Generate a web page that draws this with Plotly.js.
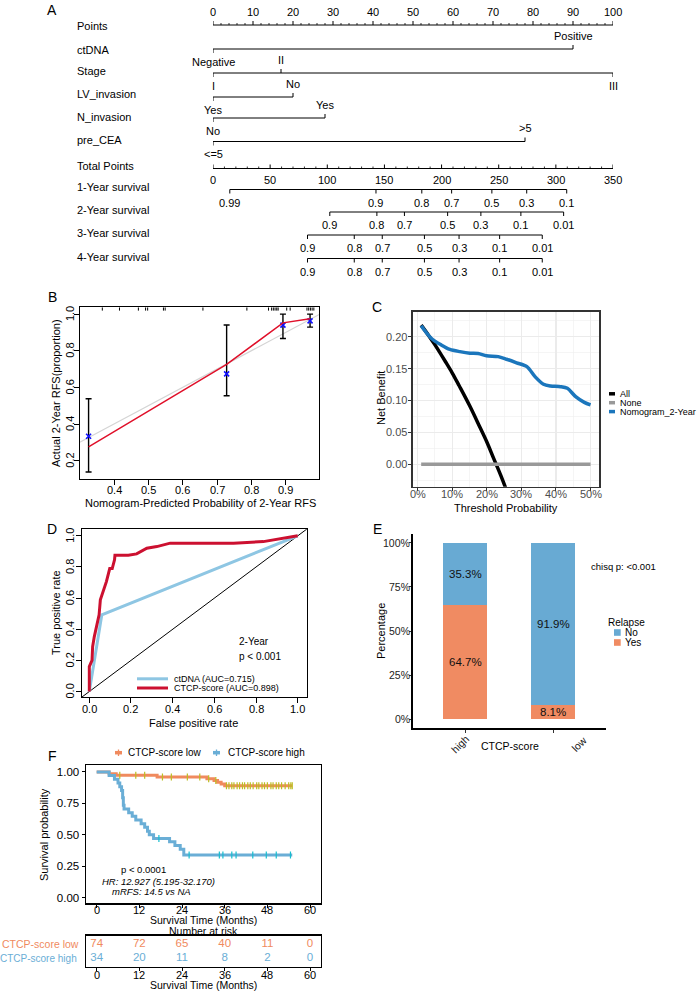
<!DOCTYPE html>
<html><head><meta charset="utf-8">
<script src="https://cdn.plot.ly/plotly-3.0.1.min.js"></script>
<style>html,body{margin:0;padding:0;background:#fff}#chart{width:699px;height:993px}</style>
</head><body><div id="chart"></div>
<script>
// ================= DATA =================
// Panel A : nomogram
const pointsTicks = [0,10,20,30,40,50,60,70,80,90,100];
const ctdnaLevels = ["Negative","Positive"]; const ctdnaPoints = [0,90];
const stageLevels = ["I","II","III"];       const stagePoints = [0,17,100];
const lvLevels    = ["Yes","No"];           const lvPoints    = [0,20];
const nLevels     = ["No","Yes"];           const nPoints     = [0,28];
const ceaLevels   = ["<=5",">5"];           const ceaPoints   = [0,78];
const totalTicks  = [0,50,100,150,200,250,300,350];
const surv1Labels = ["0.99","0.9","0.8","0.7","0.5","0.3","0.1"];
const surv1Total  = [14.7,142.6,182.7,208.8,244,274.5,309.5];
const surv2Labels = ["0.9","0.8","0.7","0.5","0.3","0.1","0.01"];
const surv2Total  = [102.2,143.4,167.5,205.3,234.4,269.4,306.8];
const surv3Labels = ["0.9","0.8","0.7","0.5","0.3","0.1","0.01"];
const surv3Total  = [82.7,123.6,148.1,185,215.3,250.8,288.1];
const surv4Labels = ["0.9","0.8","0.7","0.5","0.3","0.1","0.01"];
const surv4Total  = [82.7,123.6,148.1,185,215.3,250.8,288.1];

// Panel B : calibration
const calTicksX = [0.4,0.5,0.6,0.7,0.8,0.9];
const calTicksY = [0.2,0.4,0.6,0.8,1.0];
const calPred = [0.326,0.728,0.892,0.971];
const calObs  = [0.333,0.674,0.940,0.963];
const calLo   = [0.138,0.554,0.867,0.929];
const calHi   = [0.538,0.940,1.000,1.000];
const calApparentY = [0.275,0.725,0.952,0.974];
const rugX = [0.366,0.416,0.471,0.492,0.498,0.544,0.549,0.659,0.787,0.850,0.859,0.864,0.869,0.874,0.878,0.903,0.913,0.962,0.967,0.972,0.977,0.982];

// Panel C : decision curve
const dcaTicksX = [0,0.1,0.2,0.3,0.4,0.5];
const dcaTicksY = [0,0.05,0.10,0.15,0.20];
const dcaAllX = [0.01,0.03,0.05,0.08,0.10,0.12,0.15,0.18,0.20,0.22,0.24,0.26];
const dcaAllY = [0.218,0.203,0.187,0.161,0.143,0.123,0.092,0.058,0.035,0.009,-0.017,-0.045];
const dcaNoneX = [0.01,0.50];
const dcaNoneY = [0,0];
const dcaNomX = [0.01,0.039,0.068,0.093,0.122,0.151,0.175,0.199,0.233,0.257,0.286,0.316,0.34,0.364,0.384,0.413,0.433,0.457,0.482,0.50];
const dcaNomY = [0.217,0.1975,0.187,0.180,0.1765,0.174,0.1734,0.170,0.1687,0.1646,0.159,0.153,0.137,0.1254,0.1227,0.1216,0.119,0.106,0.097,0.093];

// Panel D : ROC
const rocTicks = [0,0.2,0.4,0.6,0.8,1.0];
const rocCtdnaX = [0,0.06,1];
const rocCtdnaY = [0,0.493,1];
const rocCtcpX = [0,0,0.013,0.016,0.024,0.035,0.047,0.053,0.066,0.082,0.098,0.11,0.121,0.123,0.187,0.227,0.276,0.324,0.388,0.692,0.835,1];
const rocCtcpY = [0,0.16,0.2,0.289,0.353,0.417,0.493,0.589,0.642,0.706,0.79,0.79,0.846,0.875,0.875,0.884,0.921,0.931,0.953,0.953,0.963,1];

// Panel E : relapse proportion
const groups = ["high","low"];
const pctYes = [0.647,0.081];
const pctNo  = [0.353,0.919];
const pctTicks = [0,0.25,0.5,0.75,1];

// Panel F : Kaplan-Meier
const kmTicksY = [0,0.25,0.5,0.75,1];
const kmLowT = [0,3.5,5.5,17,31,33,34,35,36,55];
const kmLowS = [1,0.986,0.973,0.959,0.945,0.931,0.917,0.903,0.889,0.889];
const kmHighT = [0,3.5,5,6,6.5,7,7.3,7.5,7.7,9,10,11,12.5,13.5,14.3,14.8,16,20.5,22,23.5,24.5,55];
const kmHighS = [1,0.971,0.941,0.912,0.882,0.853,0.794,0.735,0.706,0.676,0.647,0.618,0.588,0.559,0.529,0.50,0.471,0.445,0.415,0.385,0.34,0.34];
const censLow = [6.5,11,13.5,18.5,21,25.5,29,31.5,33.5,36.5,37.2,38,38.6,39.5,40.2,41,41.6,42.5,43.2,44,45,45.6,46.5,47.2,48,49,49.6,50.5,51.2,52,53,54,54.6,55];
const censHigh = [17.5,26,34.5,35.5,38,39.2,43.9,47.7,50.5,54.5];
const riskTimes = [0,12,24,36,48,60];
const riskLow  = [74,72,65,40,11,0];
const riskHigh = [34,20,11,8,2,0];

// ================= STYLE / LAYOUT =================
const FONT = "Liberation Sans, Arial, Helvetica, sans-serif";
const W = 699, H = 993;
const dx = p => p / W, dy = p => 1 - p / H;
const ORANGE = "#F08B62", BLUE = "#68AAD3";
const KM_OR = "#F08A5E", KM_BL = "#6AAED6";
const traces = [], ann = [], shapes = [];

function lineTrace(x, y, xa, ya, color, width, extra) {
  return Object.assign({type:'scatter', mode:'lines', x, y, xaxis:xa, yaxis:ya,
    line:{color, width}, hoverinfo:'skip', showlegend:false}, extra || {});
}
function segs(xs, y0, y1) { const X=[], Y=[]; xs.forEach(v => { X.push(v, v, null); Y.push(y0, y1, null); }); return {X, Y}; }
function pTxt(text, x, y, size, opts) {
  ann.push(Object.assign({text, x:dx(x), y:dy(y), xref:'paper', yref:'paper', showarrow:false,
    font:{family:FONT, size:size||11, color:'#000'}, xanchor:'center', yanchor:'middle'}, opts || {}));
}
function dTxt(text, x, y, xref, yref, size, color, opts) {
  ann.push(Object.assign({text, x, y, xref, yref, showarrow:false,
    font:{family:FONT, size:size||11, color:color||'#000'}, xanchor:'center', yanchor:'middle'}, opts || {}));
}
function xLabels(vals, texts, xref, ypx, size, color) {
  vals.forEach((v,i) => dTxt(texts[i], v, dy(ypx), xref, 'paper', size, color));
}
function yLabelsRot(vals, texts, yref, xpx, size) {
  vals.forEach((v,i) => dTxt(texts[i], dx(xpx), v, 'paper', yref, size, '#000', {textangle:-90}));
}
function yLabelsRight(vals, texts, yref, xpx, size, color) {
  vals.forEach((v,i) => dTxt(texts[i], dx(xpx), v, 'paper', yref, size, color, {xanchor:'right'}));
}
const f1 = v => v.toFixed(1), f2 = v => v.toFixed(2), pc = v => Math.round(v*100) + '%';

// ---------- Panel A ----------
const ROW = {points:25, ctDNA:49, stage:73, lv:97, n:118, cea:141.5, total:168.5, s1:189.5, s2:212, s3:235, s4:258.5};
const A_LAB = [["Points",26],["ctDNA",50],["Stage",71],["LV_invasion",94],["N_invasion",117],["pre_CEA",140],
  ["Total Points",166],["1-Year survival",187],["2-Year survival",210],["3-Year survival",233],["4-Year survival",257]];
A_LAB.forEach(([t,y]) => pTxt(t, 75, y, 11, {xanchor:'left'}));

traces.push(lineTrace([pointsTicks[0], pointsTicks[pointsTicks.length-1]], [ROW.points, ROW.points], 'x', 'y', '#000', 1));
{ const s = segs(pointsTicks, ROW.points, ROW.points-4); traces.push(lineTrace(s.X, s.Y, 'x', 'y', '#000', 1)); }
{ const minor = []; for (let v = 0; v <= 100; v += 2) if (v % 10) minor.push(v);
  const s = segs(minor, ROW.points, ROW.points-2); traces.push(lineTrace(s.X, s.Y, 'x', 'y', '#000', 0.8)); }
pointsTicks.forEach(v => dTxt(String(v), v, ROW.points-13, 'x', 'y', 11));

function catRow(levels, pts, y) {
  traces.push(lineTrace([Math.min(...pts), Math.max(...pts)], [y, y], 'x', 'y', '#000', 1));
  const X=[], Y=[];
  levels.forEach((lab, i) => {
    const up = i % 2 === 1;
    X.push(pts[i], pts[i], null); Y.push(y, up ? y-4 : y+4, null);
    dTxt(lab, pts[i], up ? y-13.5 : y+12.5, 'x', 'y', 11);
  });
  traces.push(lineTrace(X, Y, 'x', 'y', '#000', 1));
}
catRow(ctdnaLevels, ctdnaPoints, ROW.ctDNA);
catRow(stageLevels, stagePoints, ROW.stage);
catRow(lvLevels, lvPoints, ROW.lv);
catRow(nLevels, nPoints, ROW.n);
catRow(ceaLevels, ceaPoints, ROW.cea);

traces.push(lineTrace([totalTicks[0], totalTicks[totalTicks.length-1]], [ROW.total, ROW.total], 'x8', 'y', '#000', 1));
{ const s = segs(totalTicks, ROW.total, ROW.total-4); traces.push(lineTrace(s.X, s.Y, 'x8', 'y', '#000', 1)); }
{ const minor = []; for (let v = 0; v <= 350; v += 10) if (v % 50) minor.push(v);
  const s = segs(minor, ROW.total, ROW.total-2); traces.push(lineTrace(s.X, s.Y, 'x8', 'y', '#000', 0.8)); }
totalTicks.forEach(v => dTxt(String(v), v, ROW.total+11, 'x8', 'y', 11));

function survRow(labels, tps, y) {
  traces.push(lineTrace([Math.min(...tps), Math.max(...tps)], [y, y], 'x8', 'y', '#000', 1));
  const s = segs(tps, y, y+4); traces.push(lineTrace(s.X, s.Y, 'x8', 'y', '#000', 1));
  labels.forEach((lab, i) => dTxt(lab, tps[i], y+13, 'x8', 'y', 11));
}
survRow(surv1Labels, surv1Total, ROW.s1);
survRow(surv2Labels, surv2Total, ROW.s2);
survRow(surv3Labels, surv3Total, ROW.s3);
survRow(surv4Labels, surv4Total, ROW.s4);

// ---------- Panel B ----------
traces.push(lineTrace([0,1], [0,1], 'x2', 'y2', '#d4d4d4', 1.2));
{ const s = segs(rugX, 1.037, 1.019); traces.push(lineTrace(s.X, s.Y, 'x2', 'y2', '#000', 1)); }
traces.push({type:'scatter', mode:'markers', x:calPred, y:calObs, xaxis:'x2', yaxis:'y2',
  marker:{symbol:'x-thin-open', size:5, color:'#1010ff', line:{width:1.6, color:'#1010ff'}},
  error_y:{type:'data', symmetric:false, array:calHi.map((h,i)=>h-calObs[i]), arrayminus:calObs.map((o,i)=>o-calLo[i]),
    color:'#000', thickness:1.4, width:3},
  hoverinfo:'skip', showlegend:false});
traces.push(lineTrace(calPred, calApparentY, 'x2', 'y2', '#e0102a', 1.5));
xLabels(calTicksX, calTicksX.map(f1), 'x2', 490, 11);
yLabelsRot(calTicksY, calTicksY.map(f1), 'y2', 70, 11);

// ---------- Panel C ----------
traces.push(lineTrace(dcaAllX, dcaAllY, 'x3', 'y3', '#000', 3.5, {line:{color:'#000', width:3.5, shape:'spline'}}));
traces.push(lineTrace(dcaNoneX, dcaNoneY, 'x3', 'y3', '#999999', 3.5));
traces.push(lineTrace(dcaNomX, dcaNomY, 'x3', 'y3', '#1B76BC', 3.5, {line:{color:'#1B76BC', width:3.5, shape:'spline', smoothing:0.8}}));
xLabels(dcaTicksX, dcaTicksX.map(pc), 'x3', 494.5, 11, '#4d4d4d');
yLabelsRight(dcaTicksY, dcaTicksY.map(f2), 'y3', 409.5, 11, '#4d4d4d');

// ---------- Panel D ----------
traces.push(lineTrace([-0.04,1.05], [-0.04,1.05], 'x4', 'y4', '#000', 1));
traces.push(lineTrace(rocCtdnaX, rocCtdnaY, 'x4', 'y4', '#8EC6E3', 3));
traces.push(lineTrace(rocCtcpX, rocCtcpY, 'x4', 'y4', '#CC1030', 3));
xLabels(rocTicks, rocTicks.map(f1), 'x4', 709.3, 11);
yLabelsRot(rocTicks, rocTicks.map(f1), 'y4', 70, 11);

// ---------- Panel E ----------
traces.push({type:'bar', x:groups, y:pctYes, xaxis:'x5', yaxis:'y5', width:0.5, marker:{color:ORANGE, line:{width:0}}, hoverinfo:'skip', showlegend:false});
traces.push({type:'bar', x:groups, y:pctNo, xaxis:'x5', yaxis:'y5', width:0.5, marker:{color:BLUE, line:{width:0}}, hoverinfo:'skip', showlegend:false});
groups.forEach((g, i) => {
  dTxt((pctYes[i]*100).toFixed(1)+'%', g, pctYes[i]/2, 'x5', 'y5', 11.5, '#111');
  dTxt((pctNo[i]*100).toFixed(1)+'%', g, pctYes[i] + pctNo[i]/2, 'x5', 'y5', 11.5, '#111');
});
yLabelsRight(pctTicks, pctTicks.map(pc), 'y5', 411.5, 10.5, '#222');
pTxt(groups[0], 460, 744, 10.5, {textangle:-45, font:{family:FONT, size:10.5, color:'#222'}});
pTxt(groups[1], 579, 744, 10.5, {textangle:-45, font:{family:FONT, size:10.5, color:'#222'}});

// ---------- Panel F ----------
function stepAt(ts, ss, t) { let v = ss[0]; for (let i = 0; i < ts.length; i++) if (ts[i] <= t) v = ss[i]; return v; }
traces.push(lineTrace(kmLowT, kmLowS, 'x6', 'y6', KM_OR, 3, {line:{color:KM_OR, width:3, shape:'hv'}}));
traces.push(lineTrace(kmHighT, kmHighS, 'x6', 'y6', KM_BL, 3, {line:{color:KM_BL, width:3, shape:'hv'}}));
traces.push({type:'scatter', mode:'markers', x:censLow, y:censLow.map(t=>stepAt(kmLowT,kmLowS,t)), xaxis:'x6', yaxis:'y6',
  marker:{symbol:'line-ns-open', size:5, line:{color:KM_OR, width:1.2}}, hoverinfo:'skip', showlegend:false});
traces.push({type:'scatter', mode:'markers', x:censHigh, y:censHigh.map(t=>stepAt(kmHighT,kmHighS,t)), xaxis:'x6', yaxis:'y6',
  marker:{symbol:'line-ns-open', size:5, line:{color:KM_BL, width:1.2}}, hoverinfo:'skip', showlegend:false});
xLabels(riskTimes, riskTimes.map(String), 'x6', 910, 11);

traces.push({type:'scatter', mode:'text', x:riskTimes, y:riskTimes.map(()=>0.72), text:riskLow.map(String), xaxis:'x7', yaxis:'y7',
  textfont:{family:FONT, size:11.5, color:KM_OR}, hoverinfo:'skip', showlegend:false, cliponaxis:false});
traces.push({type:'scatter', mode:'text', x:riskTimes, y:riskTimes.map(()=>0.27), text:riskHigh.map(String), xaxis:'x7', yaxis:'y7',
  textfont:{family:FONT, size:11.5, color:KM_BL}, hoverinfo:'skip', showlegend:false, cliponaxis:false});
xLabels(riskTimes, riskTimes.map(String), 'x7', 974.5, 11);

// ---------- Texts ----------
pTxt("A", 52, 10, 14); pTxt("B", 52, 297, 14); pTxt("C", 377, 307, 14);
pTxt("D", 52, 529, 14); pTxt("E", 377, 529, 14); pTxt("F", 52, 756, 14);

pTxt("Actual 2-Year RFS(proportion)", 56, 393, 11, {textangle:-90});
pTxt("Nomogram-Predicted Probability of 2-Year RFS", 200, 503, 11);
pTxt("Net Benefit", 381, 398, 11, {textangle:-90});
pTxt("Threshold Probability", 506, 508, 11);
pTxt("True positive rate", 56, 613, 11, {textangle:-90});
pTxt("False positive rate", 193, 723, 11);
pTxt("Percentage", 381, 631, 11, {textangle:-90});
pTxt("CTCP-score", 510, 746, 10.5);
pTxt("Survival probability", 44, 835, 11, {textangle:-90});
pTxt("Survival Time (Months)", 203, 920.3, 10.5);
pTxt("Number at risk", 203, 930.8, 10.5);
pTxt("Survival Time (Months)", 203, 985, 10.5);

[["All","#000",393.8],["None","#999999",402.7],["Nomogram_2-Year","#1B76BC",411.6]].forEach(([t,c,y]) => {
  shapes.push({type:'line', xref:'paper', yref:'paper', x0:dx(609), x1:dx(615), y0:dy(y), y1:dy(y), line:{color:c, width:3.5}});
  pTxt(t, 618, y, 9, {xanchor:'left'});
});
[["ctDNA (AUC=0.715)","#8EC6E3",678.8],["CTCP-score (AUC=0.898)","#CC1030",688]].forEach(([t,c,y]) => {
  shapes.push({type:'line', xref:'paper', yref:'paper', x0:dx(137), x1:dx(168), y0:dy(y), y1:dy(y), line:{color:c, width:3}});
  pTxt(t, 171.7, y, 9, {xanchor:'left'});
});
pTxt("2-Year", 236.7, 641.7, 10, {xanchor:'left'});
pTxt("p &lt; 0.001", 236.7, 656.7, 10, {xanchor:'left'});
pTxt("chisq p: &lt;0.001", 589.3, 566, 9.5, {xanchor:'left'});
pTxt("Relapse", 606, 622.3, 10, {xanchor:'left'});
[["No",BLUE,632.5],["Yes",ORANGE,642.5]].forEach(([t,c,y]) => {
  shapes.push({type:'rect', xref:'paper', yref:'paper', x0:dx(614), x1:dx(620.7), y0:dy(y-3.3), y1:dy(y+3.3), fillcolor:c, line:{width:0}});
  pTxt(t, 622.7, y, 10, {xanchor:'left'});
});
[["CTCP-score low",KM_OR,115,126],["CTCP-score high",KM_BL,213,226]].forEach(([t,c,x0,xt]) => {
  shapes.push({type:'line', xref:'paper', yref:'paper', x0:dx(x0), x1:dx(x0+7), y0:dy(752.7), y1:dy(752.7), line:{color:c, width:3.5}});
  shapes.push({type:'line', xref:'paper', yref:'paper', x0:dx(x0+3.5), x1:dx(x0+3.5), y0:dy(749.5), y1:dy(756), line:{color:c, width:1.3}});
  pTxt(t, xt, 752.7, 10, {xanchor:'left'});
});
pTxt("p &lt; 0.0001", 143.3, 869.3, 9.5);
pTxt("<i>HR: 12.927 (5.195-32.170)</i>", 158, 881.7, 9.5);
pTxt("<i>mRFS: 14.5 vs NA</i>", 151, 891, 9.5);
pTxt("CTCP-score low", 81, 944.3, 10.5, {xanchor:'right', font:{family:FONT, size:10.5, color:KM_OR}});
pTxt("CTCP-score high", 79, 958.3, 10, {xanchor:'right', font:{family:FONT, size:10, color:KM_BL}});

// ---------- axes ----------
function hid(domain, range, extra) {
  return Object.assign({domain, range, showgrid:false, zeroline:false, showline:false, ticks:'', showticklabels:false, fixedrange:true}, extra||{});
}
function rAxis(domain, range, vals, extra) {
  return Object.assign({domain, range, tickmode:'array', tickvals:vals, showticklabels:false, ticks:'outside', ticklen:5, tickwidth:1,
    tickcolor:'#000', showline:true, mirror:true, linecolor:'#000', linewidth:1, showgrid:false, zeroline:false,
    fixedrange:true}, extra||{});
}
const layout = {
  width:W, height:H, margin:{l:0,r:0,t:0,b:0}, paper_bgcolor:'#fff', plot_bgcolor:'rgba(0,0,0,0)',
  showlegend:false, barmode:'stack', font:{family:FONT},
  xaxis: hid([dx(213),dx(613)], [0,100], {anchor:'y'}),
  xaxis8: hid([dx(213),dx(613)], [0,350], {anchor:'y', overlaying:'x'}),
  yaxis: hid([dy(290),1], [290,0], {anchor:'x'}),
  xaxis2: rAxis([dx(80),dx(319)], [0.301,0.997], calTicksX, {anchor:'y2'}),
  yaxis2: rAxis([dy(479),dy(307.3)], [0.1,1.037], calTicksY, {anchor:'x2'}),
  xaxis3: {domain:[dx(412.7),dx(599)], range:[-0.0145,0.5245], anchor:'y3', tickmode:'array', tickvals:dcaTicksX, showticklabels:false,
    ticks:'outside', ticklen:3, tickcolor:'#333', showline:true, mirror:true, linecolor:'#333', linewidth:1.6,
    showgrid:true, gridcolor:'#ebebeb', gridwidth:1.1, zeroline:false,
    minor:{tick0:0, dtick:0.05, showgrid:true, gridcolor:'#efefef', gridwidth:0.6}, fixedrange:true},
  yaxis3: {domain:[dy(486.7),dy(311.7)], range:[-0.035,0.239], anchor:'x3', tickmode:'array', tickvals:dcaTicksY, showticklabels:false,
    ticks:'outside', ticklen:3, tickcolor:'#333', showline:true, mirror:true, linecolor:'#333', linewidth:1.6,
    showgrid:true, gridcolor:'#ebebeb', gridwidth:1.1, zeroline:false,
    minor:{tick0:0, dtick:0.025, showgrid:true, gridcolor:'#efefef', gridwidth:0.6}, fixedrange:true},
  xaxis4: rAxis([dx(81.7),dx(306.7)], [-0.0365,1.043], rocTicks, {anchor:'y4'}),
  yaxis4: rAxis([dy(697.3),dy(529)], [-0.037,1.044], rocTicks, {anchor:'x4'}),
  xaxis5: {domain:[dx(412.7),dx(606)], type:'category', range:[-0.6,1.6], anchor:'y5', showline:true, linecolor:'#000', linewidth:2,
    ticks:'outside', ticklen:3, tickcolor:'#333', showticklabels:false, showgrid:false, zeroline:false, fixedrange:true},
  yaxis5: {domain:[dy(728.3),dy(533.9)], range:[-0.05,1.05], anchor:'x5', tickmode:'array', tickvals:pctTicks, showticklabels:false,
    showline:true, linecolor:'#000', linewidth:2, ticks:'outside', ticklen:2, tickcolor:'#333',
    showgrid:false, zeroline:false, fixedrange:true},
  xaxis6: rAxis([dx(86),dx(320.7)], [-3,63], riskTimes, {anchor:'y6', ticklen:3, linewidth:1.5}),
  yaxis6: Object.assign(rAxis([dy(903.3),dy(765)], [-0.045,1.055], kmTicksY, {anchor:'x6', ticklen:3, linewidth:1.5}),
    {showticklabels:true, ticktext:kmTicksY.map(f2), tickfont:{family:FONT, size:11.5, color:'#000'}}),
  xaxis7: rAxis([dx(86),dx(320.7)], [-3,63], riskTimes, {anchor:'y7', ticklen:3, linewidth:1.5}),
  yaxis7: hid([dy(966.7),dy(935.7)], [0,1], {anchor:'x7', showline:true, mirror:true, linecolor:'#000', linewidth:1.5}),
  annotations: ann, shapes: shapes
};
Plotly.newPlot('chart', traces, layout, {displayModeBar:false, staticPlot:true});
</script></body></html>
